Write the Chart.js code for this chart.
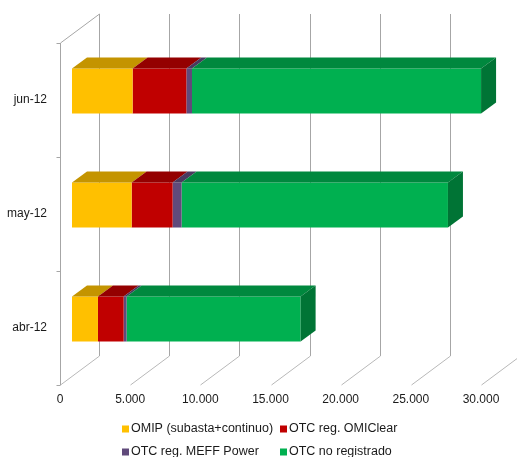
<!DOCTYPE html>
<html lang="es">
<head>
<meta charset="UTF-8">
<title>Volumen negociado por mercado</title>
<script src="https://cdn.jsdelivr.net/npm/chart.js"></script>
<style>
  body { margin: 0; background: #fff; }
  #wrap { width: 517px; height: 457px; position: relative; }
</style>
</head>
<body>
<div id="wrap"><canvas id="volChart"></canvas></div>
<script>
// months, bottom to top in the picture
const months = ['abr-12', 'may-12', 'jun-12'];
const omip = [1850, 4250, 4320];       // OMIP (subasta+continuo)
const omiClear = [1830, 2920, 3830];   // OTC reg. OMIClear
const meffPower = [210, 640, 400];     // OTC reg. MEFF Power
const noRegistrado = [12400, 18980, 20600]; // OTC no registrado
const xMax = 30000;
const xStep = 5000;

const FONT = "'Liberation Sans', Arial, sans-serif";

// 3D look: bar depth and where the walls sit relative to the bar plane
const barDepth = { dx: 15, dy: -11 };
const backWall = { dx: 27, dy: -20 };
const frontEdge = { dx: -12, dy: 9 };

function shade(hex, f) {
  const n = parseInt(hex.slice(1), 16);
  const r = Math.round(((n >> 16) & 255) * f);
  const g = Math.round(((n >> 8) & 255) * f);
  const b = Math.round((n & 255) * f);
  return `rgb(${r},${g},${b})`;
}

function fmt(v) {
  return String(v).replace(/\B(?=(\d{3})+(?!\d))/g, '.');
}

const walls = {
  id: 'walls',
  beforeDatasetsDraw(chart) {
    const { ctx, chartArea: a, scales: { x } } = chart;
    ctx.save();
    ctx.lineWidth = 1;
    // back wall gridlines + floor lines
    x.ticks.forEach(t => {
      const px = Math.round(x.getPixelForValue(t.value)) + 0.5;
      ctx.strokeStyle = '#a6a6a6';
      ctx.beginPath();
      ctx.moveTo(px + backWall.dx, a.top + backWall.dy);
      ctx.lineTo(px + backWall.dx, a.bottom + backWall.dy);
      ctx.stroke();
      ctx.strokeStyle = '#b8b8b8';
      ctx.beginPath();
      ctx.moveTo(px + frontEdge.dx, a.bottom + frontEdge.dy);
      ctx.lineTo(px + backWall.dx, a.bottom + backWall.dy);
      ctx.stroke();
    });
    // left wall: front edge, top diagonal, category ticks
    const lx = Math.round(a.left) + frontEdge.dx + 0.5;
    ctx.strokeStyle = '#a6a6a6';
    ctx.beginPath();
    ctx.moveTo(lx, a.top + frontEdge.dy);
    ctx.lineTo(lx, a.bottom + frontEdge.dy);
    ctx.moveTo(lx, a.top + frontEdge.dy);
    ctx.lineTo(Math.round(a.left) + backWall.dx + 0.5, a.top + backWall.dy);
    const n = months.length;
    for (let i = 0; i <= n; i++) {
      const yb = Math.round(a.top + i * (a.bottom - a.top) / n + frontEdge.dy) + 0.5;
      ctx.moveTo(lx - 4, yb);
      ctx.lineTo(lx, yb);
    }
    ctx.stroke();
    ctx.restore();
  },
  afterDatasetsDraw(chart) {
    const { ctx } = chart;
    const last = chart.data.datasets.length - 1;
    ctx.save();
    chart.data.datasets.forEach((ds, d) => {
      const meta = chart.getDatasetMeta(d);
      meta.data.forEach(el => {
        const { x, y, base, height } = el.getProps(['x', 'y', 'base', 'height'], true);
        const top = y - height / 2, bot = y + height / 2;
        // top face
        ctx.fillStyle = shade(ds.backgroundColor, 0.77);
        ctx.beginPath();
        ctx.moveTo(base, top);
        ctx.lineTo(x, top);
        ctx.lineTo(x + barDepth.dx, top + barDepth.dy);
        ctx.lineTo(base + barDepth.dx, top + barDepth.dy);
        ctx.closePath();
        ctx.fill();
        if (d === last) {
          ctx.fillStyle = shade(ds.backgroundColor, 0.66);
          ctx.beginPath();
          ctx.moveTo(x, top);
          ctx.lineTo(x + barDepth.dx, top + barDepth.dy);
          ctx.lineTo(x + barDepth.dx, bot + barDepth.dy);
          ctx.lineTo(x, bot);
          ctx.closePath();
          ctx.fill();
        }
      });
    });
    ctx.restore();
  }
};

// two-column legend under the axis
const gridLegend = {
  id: 'gridLegend',
  afterDraw(chart) {
    const { ctx } = chart;
    const cols = [122, 280];
    const rows = [429, 452];
    ctx.save();
    ctx.font = `12.5px ${FONT}`;
    ctx.textBaseline = 'middle';
    chart.data.datasets.forEach((ds, i) => {
      const cx = cols[i % 2], cy = rows[Math.floor(i / 2)];
      ctx.fillStyle = ds.backgroundColor;
      ctx.fillRect(cx, cy - 3.5, 7, 7);
      ctx.fillStyle = '#1a1a1a';
      ctx.fillText(ds.label, cx + 9, cy);
    });
    ctx.restore();
  }
};

const ctx = document.getElementById('volChart').getContext('2d');

const volChart = new Chart(ctx, {
  type: 'bar',
  data: {
    labels: months,
    datasets: [
      { label: 'OMIP (subasta+continuo)', data: omip, backgroundColor: '#FFC000' },
      { label: 'OTC reg. OMIClear', data: omiClear, backgroundColor: '#C00000' },
      { label: 'OTC reg. MEFF Power', data: meffPower, backgroundColor: '#604A7B' },
      { label: 'OTC no registrado', data: noRegistrado, backgroundColor: '#00B050' }
    ]
  },
  options: {
    indexAxis: 'y',
    responsive: true,
    maintainAspectRatio: false,
    animation: false,
    layout: { padding: { top: 34, right: 24, left: 0, bottom: 0 } },
    datasets: {
      bar: { categoryPercentage: 1, barPercentage: 0.395, borderWidth: 0 }
    },
    plugins: {
      legend: { display: false },
      tooltip: { enabled: true }
    },
    scales: {
      x: {
        stacked: true,
        min: 0,
        max: xMax,
        grid: { display: false, drawTicks: false },
        border: { display: false },
        ticks: {
          stepSize: xStep,
          labelOffset: frontEdge.dx,
          padding: 16,
          color: '#1a1a1a',
          font: { family: FONT, size: 12 },
          maxRotation: 0,
          callback: v => fmt(v)
        },
        afterFit: s => {
          s.height = 81;
          s.paddingLeft = 0;
          s.paddingRight = 0;
        }
      },
      y: {
        stacked: true,
        reverse: true,
        grid: { display: false, drawTicks: false },
        border: { display: false },
        ticks: {
          labelOffset: frontEdge.dy,
          padding: 25,
          color: '#1a1a1a',
          font: { family: FONT, size: 12 }
        },
        afterFit: s => { s.width = 72; }
      }
    }
  },
  plugins: [walls, gridLegend]
});
</script>
</body>
</html>
